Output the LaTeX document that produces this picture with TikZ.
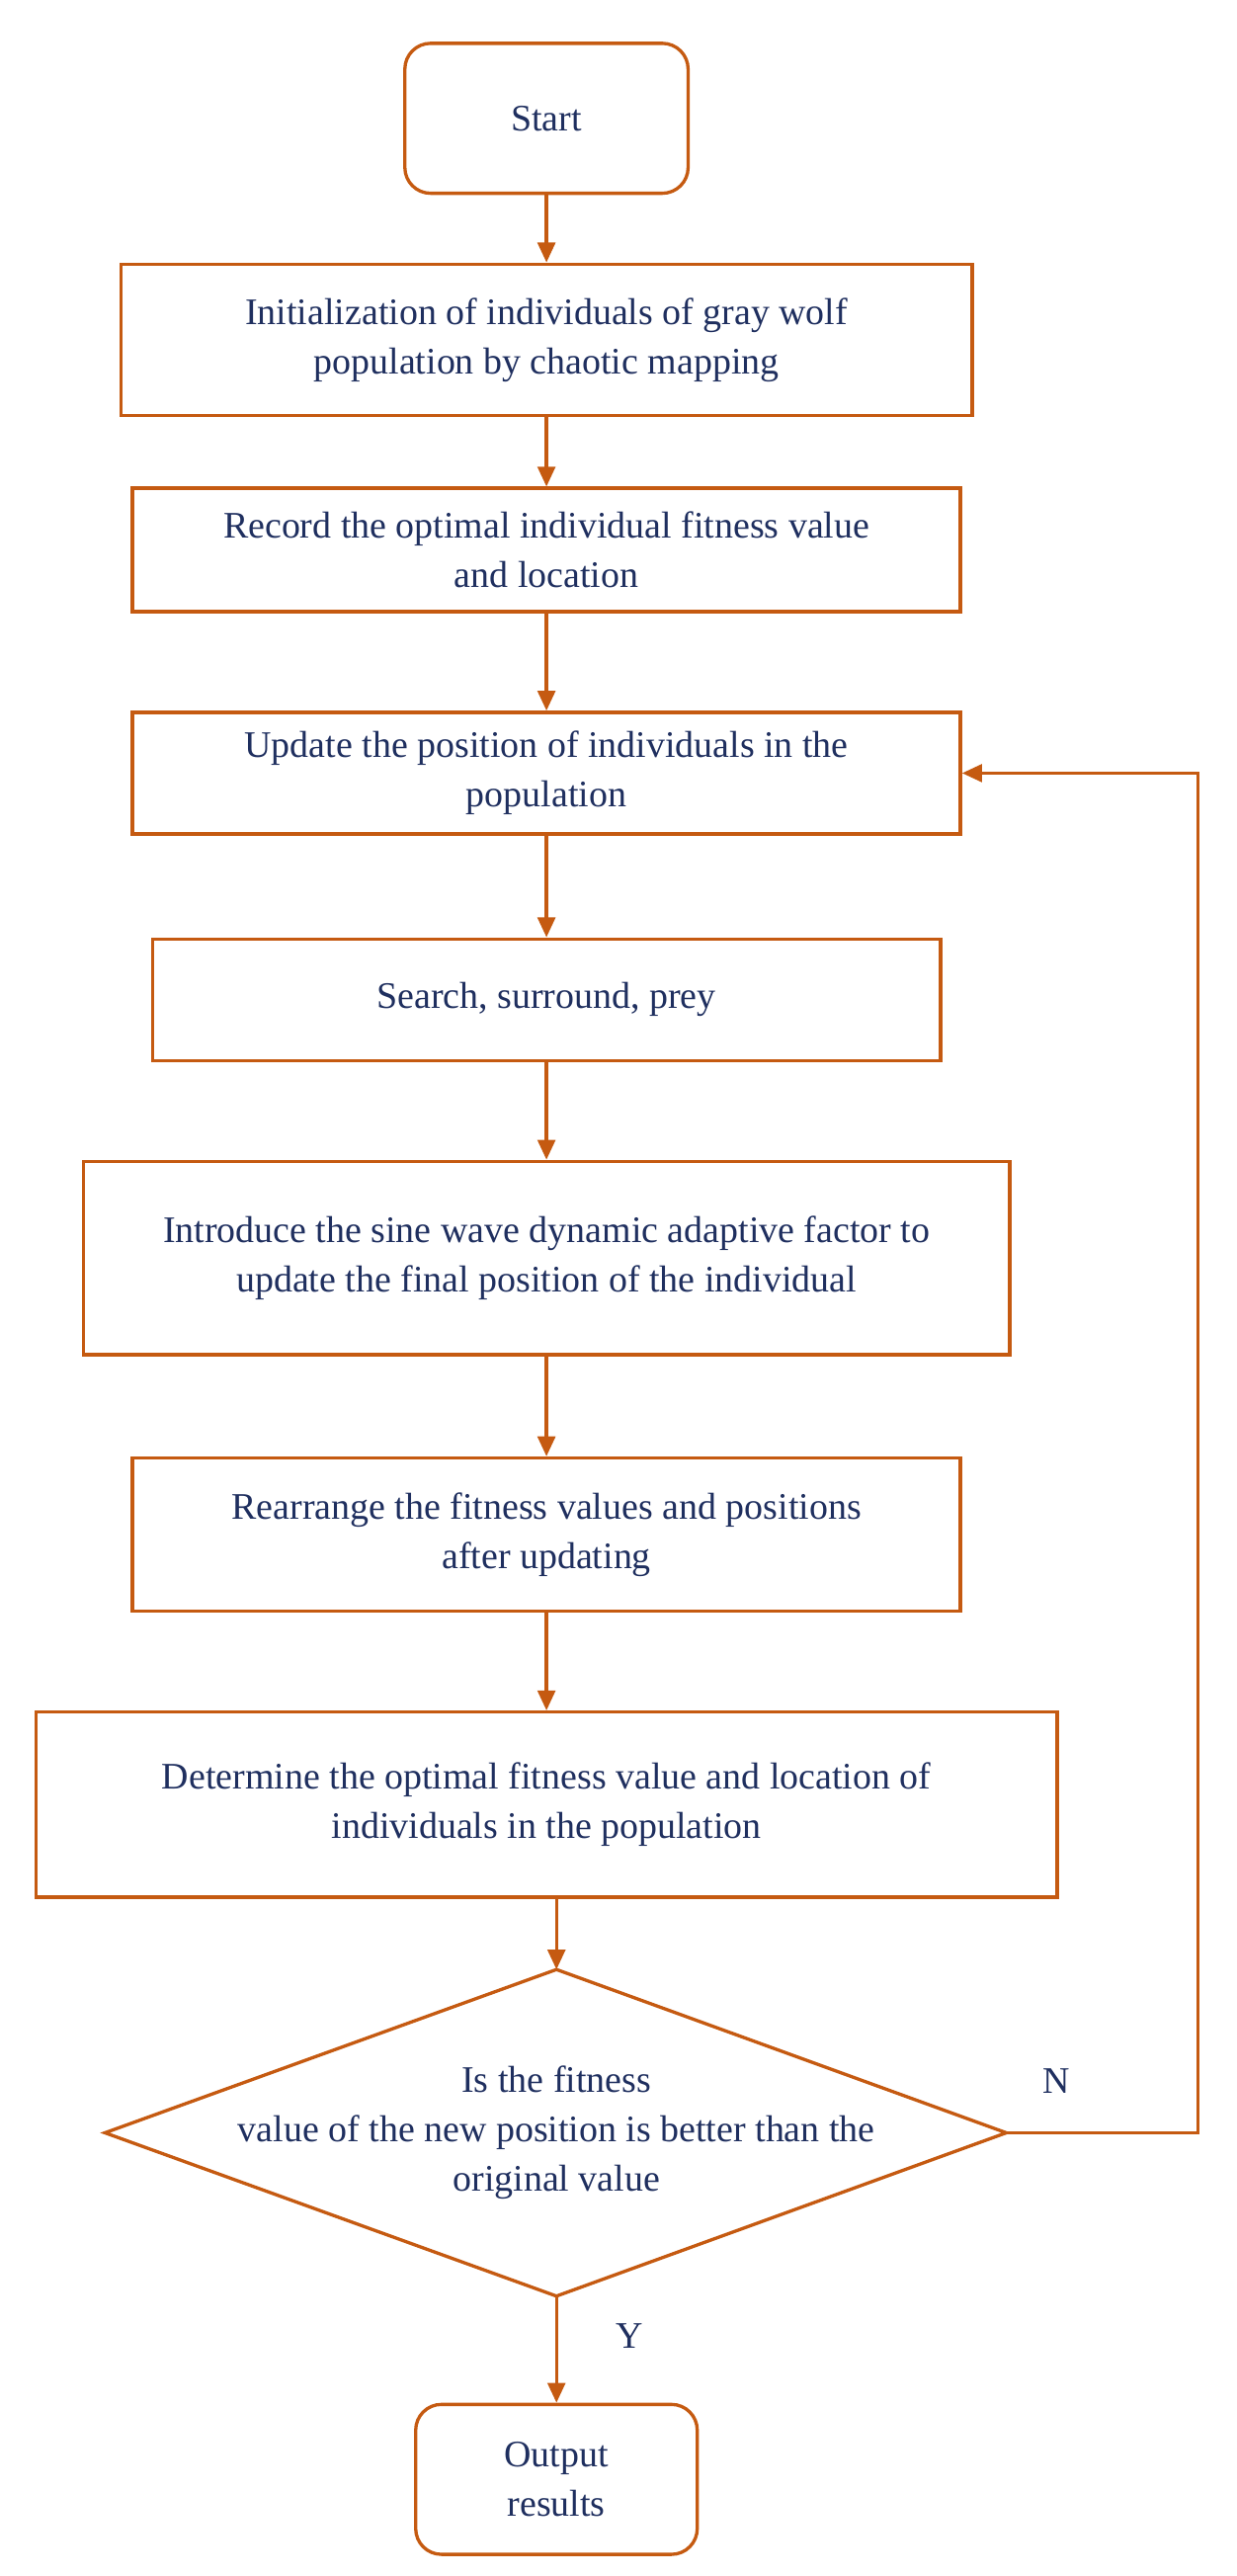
\documentclass[tikz,border=0pt]{standalone}
\usepackage{fontspec}
\setmainfont{Liberation Serif}
\usetikzlibrary{shapes.geometric,arrows.meta}
\definecolor{oc}{HTML}{C55A11}
\definecolor{tc}{HTML}{1F2F5F}
\begin{document}
\begin{tikzpicture}[x=0.05cm,y=-0.05cm,
  box/.style={draw=oc,line width=2.8pt,text=tc,align=center,font=\fontsize{32}{42}\selectfont,inner sep=0pt},
  arr/.style={draw=oc,line width=2.8pt,-{Triangle[length=17pt,width=15pt]}},
  lab/.style={text=tc,font=\fontsize{32}{42}\selectfont}]
\useasboundingbox (0,0) rectangle (742,1546);
\node[box,rounded corners=22pt,minimum width=170*0.05cm,minimum height=90*0.05cm] (s) at (328,71) {Start};
\node[box,minimum width=511*0.05cm,minimum height=91*0.05cm] (b1) at (328,204) {Initialization of individuals of gray wolf\\population by chaotic mapping};
\node[box,minimum width=497*0.05cm,minimum height=74*0.05cm] (b2) at (328,330) {Record the optimal individual fitness value\\and location};
\node[box,minimum width=497*0.05cm,minimum height=73*0.05cm] (b3) at (328,464) {Update the position of individuals in the\\population};
\node[box,minimum width=473*0.05cm,minimum height=73*0.05cm] (b4) at (328,600) {Search, surround, prey};
\node[box,minimum width=556*0.05cm,minimum height=116*0.05cm] (b5) at (328,755) {Introduce the sine wave dynamic adaptive factor to\\update the final position of the individual};
\node[box,minimum width=497*0.05cm,minimum height=92*0.05cm] (b6) at (328,921) {Rearrange the fitness values and positions\\after updating};
\node[box,minimum width=613*0.05cm,minimum height=111*0.05cm] (b7) at (328,1083) {Determine the optimal fitness value and location of\\individuals in the population};
\coordinate (dt) at (334,1182); \coordinate (db) at (334,1378);
\coordinate (dl) at (63,1280); \coordinate (dr) at (604,1280);
\draw[oc,line width=2.8pt,line join=miter] (dt) -- (dr) -- (db) -- (dl) -- cycle;
\node[lab,align=center] (d) at (334,1280) {Is the fitness\\value of the new position is better than the\\original value};
\node[box,rounded corners=22pt,minimum width=169*0.05cm,minimum height=90*0.05cm] (o) at (334,1488) {Output\\results};
\draw[arr] (s) -- (b1);
\draw[arr] (b1) -- (b2);
\draw[arr] (b2) -- (b3);
\draw[arr] (b3) -- (b4);
\draw[arr] (b4) -- (b5);
\draw[arr] (b5) -- (b6);
\draw[arr] (b6) -- (b7);
\draw[arr] (b7.south -| dt) -- (dt);
\draw[arr] (db) -- (o);
\draw[arr] (dr) -- (719,1280) -- (719,464) -- (b3.east);
\node[lab] (n) at (634,1249) {N};
\node[lab] (y) at (378,1402) {Y};
\end{tikzpicture}
\end{document}
